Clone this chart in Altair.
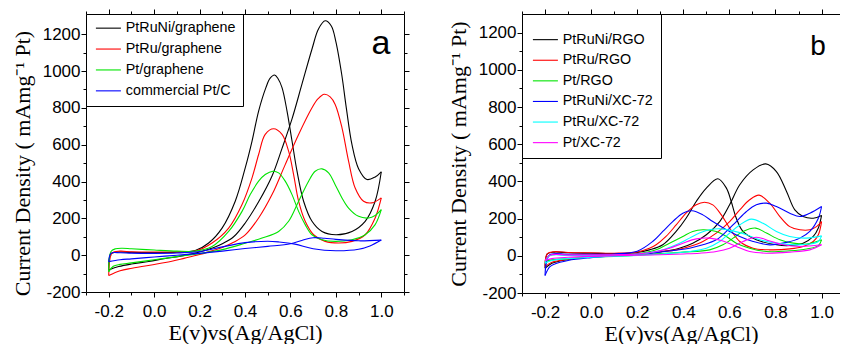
import altair as alt
import pandas as pd

# ---------------- Panel a data ----------------
a_names = ["PtRuNi/graphene", "PtRu/graphene", "Pt/graphene", "commercial Pt/C"]
a_colors = ["#000000", "#ff0000", "#00e400", "#0000ff"]

a1_fwd_E = [-0.2, -0.156, -0.1, -0.024, 0.05, 0.122, 0.196, 0.26, 0.3, 0.35, 0.401, 0.46, 0.519, 0.563, 0.607, 0.651, 0.695, 0.724, 0.753, 0.78, 0.8, 0.826, 0.846, 0.871, 0.9, 0.937, 0.973, 1.0]
a1_fwd_I = [-80, -62, -48, -34, -18, -4, 16, 40, 62, 100, 175, 290, 430, 580, 740, 930, 1120, 1230, 1273, 1245, 1160, 980, 800, 600, 470, 411, 425, 453]
a1_bwd_E = [1.0, 0.973, 0.929, 0.871, 0.8, 0.739, 0.695, 0.658, 0.629, 0.607, 0.585, 0.563, 0.545, 0.53, 0.51, 0.492, 0.46, 0.431, 0.401, 0.357, 0.299, 0.24, 0.181, 0.1, 0.0, -0.1, -0.16, -0.19, -0.2]
a1_bwd_I = [453, 293, 184, 129, 111, 129, 184, 293, 456, 620, 783, 910, 960, 979, 960, 910, 783, 620, 474, 293, 147, 66, 25, 16, 14, 15, 17, 8, -80]

a2_fwd_E = [-0.2, -0.15, -0.097, 0.049, 0.135, 0.196, 0.25, 0.3, 0.35, 0.401, 0.46, 0.519, 0.577, 0.636, 0.695, 0.722, 0.749, 0.775, 0.797, 0.827, 0.856, 0.885, 0.922, 0.959, 1.0]
a2_fwd_I = [-111, -85, -71, -40, -16, 2, 22, 42, 70, 110, 202, 329, 492, 656, 801, 850, 874, 860, 819, 692, 511, 365, 293, 284, 311]
a2_bwd_E = [1.0, 0.973, 0.929, 0.871, 0.812, 0.753, 0.702, 0.665, 0.636, 0.614, 0.592, 0.563, 0.526, 0.489, 0.46, 0.431, 0.387, 0.328, 0.255, 0.181, 0.1, 0.0, -0.1, -0.15, -0.185, -0.2]
a2_bwd_I = [311, 202, 111, 75, 66, 75, 111, 184, 293, 438, 565, 656, 687, 656, 547, 420, 275, 147, 66, 22, 18, 17, 18, 22, 12, -111]

a3_fwd_E = [-0.2, -0.18, -0.15, -0.1, 0.0, 0.1, 0.2, 0.3, 0.401, 0.475, 0.548, 0.592, 0.636, 0.68, 0.709, 0.739, 0.768, 0.797, 0.827, 0.856, 0.9, 0.944, 0.973, 1.0]
a3_fwd_I = [-90, -60, -50, -42, -25, -8, 8, 30, 65, 93, 129, 184, 293, 402, 456, 469, 447, 383, 311, 256, 211, 202, 216, 247]
a3_bwd_E = [1.0, 0.973, 0.929, 0.871, 0.797, 0.739, 0.695, 0.665, 0.636, 0.607, 0.577, 0.548, 0.523, 0.489, 0.46, 0.423, 0.387, 0.328, 0.255, 0.181, 0.1, 0.0, -0.1, -0.14, -0.17, -0.19, -0.2]
a3_bwd_I = [247, 166, 111, 84, 75, 84, 111, 166, 238, 329, 402, 447, 456, 438, 402, 329, 238, 129, 47, 22, 22, 28, 35, 38, 35, 20, -90]

a4_fwd_E = [-0.2, -0.15, -0.1, 0.0, 0.1, 0.2, 0.3, 0.4, 0.5, 0.6, 0.65, 0.7, 0.75, 0.8, 0.9, 1.0]
a4_fwd_I = [-35, -25, -20, -10, 0, 10, 22, 36, 48, 62, 80, 95, 92, 86, 78, 82]
a4_bwd_E = [1.0, 0.95, 0.9, 0.8, 0.7, 0.62, 0.55, 0.5, 0.4, 0.3, 0.2, 0.1, 0.0, -0.1, -0.15, -0.19, -0.2]
a4_bwd_I = [82, 50, 32, 24, 35, 60, 72, 76, 68, 45, 20, 12, 10, 11, 13, 10, -35]

# ---------------- Panel b data ----------------
b_names = ["PtRuNi/RGO", "PtRu/RGO", "Pt/RGO", "PtRuNi/XC-72", "PtRu/XC-72", "Pt/XC-72"]
b_colors = ["#000000", "#ff0000", "#00e400", "#0000ff", "#00ffff", "#ff00ff"]

b1_fwd_E = [-0.2, -0.17, -0.1, 0.0, 0.1, 0.2, 0.311, 0.383, 0.441, 0.5, 0.558, 0.601, 0.645, 0.703, 0.758, 0.804, 0.848, 0.884, 0.92, 0.964, 1.0]
b1_fwd_I = [-67, -40, -20, -5, 3, 10, 23, 41, 68, 113, 184, 274, 382, 462, 494, 453, 346, 247, 211, 202, 217]
b1_bwd_E = [1.0, 0.986, 0.964, 0.92, 0.862, 0.804, 0.717, 0.659, 0.63, 0.608, 0.587, 0.55, 0.5, 0.456, 0.412, 0.369, 0.311, 0.253, 0.2, 0.1, 0.0, -0.1, -0.16, -0.19, -0.2]
b1_bwd_I = [217, 149, 104, 68, 55, 59, 86, 131, 202, 292, 364, 414, 364, 292, 202, 131, 59, 32, 18, 12, 14, 16, 20, 10, -67]

b2_fwd_E = [-0.2, -0.17, -0.1, 0.0, 0.1, 0.2, 0.3, 0.369, 0.427, 0.485, 0.543, 0.601, 0.645, 0.688, 0.729, 0.775, 0.819, 0.862, 0.906, 0.949, 0.978, 1.0]
b2_fwd_I = [-58, -35, -18, -5, 3, 8, 22, 32, 50, 77, 122, 184, 247, 301, 326, 283, 211, 157, 140, 140, 157, 184]
b2_bwd_E = [1.0, 0.986, 0.964, 0.92, 0.862, 0.775, 0.703, 0.645, 0.601, 0.565, 0.528, 0.492, 0.456, 0.412, 0.369, 0.325, 0.282, 0.253, 0.2, 0.1, 0.0, -0.1, -0.16, -0.19, -0.2]
b2_bwd_I = [184, 113, 77, 50, 37, 32, 41, 77, 149, 220, 274, 288, 274, 229, 166, 104, 59, 41, 20, 14, 16, 18, 22, 12, -58]

b3_fwd_E = [-0.2, -0.17, -0.1, 0.0, 0.1, 0.2, 0.3, 0.4, 0.514, 0.572, 0.616, 0.659, 0.714, 0.761, 0.819, 0.877, 0.935, 1.0]
b3_fwd_I = [-30, -22, -15, -8, -3, 3, 12, 20, 32, 59, 95, 131, 149, 122, 86, 68, 63, 86]
b3_bwd_E = [1.0, 0.986, 0.935, 0.862, 0.761, 0.688, 0.63, 0.587, 0.543, 0.485, 0.441, 0.398, 0.34, 0.282, 0.2, 0.1, 0.0, -0.1, -0.18, -0.2]
b3_bwd_I = [86, 55, 37, 27, 23, 41, 68, 104, 131, 140, 131, 104, 68, 32, 10, 6, 5, 5, 3, -30]

b4_fwd_E = [-0.2, -0.18, -0.16, -0.1, 0.0, 0.1, 0.2, 0.3, 0.427, 0.485, 0.543, 0.587, 0.63, 0.674, 0.717, 0.761, 0.804, 0.862, 0.906, 0.949, 1.0]
b4_fwd_I = [-106, -60, -45, -25, -10, 0, 8, 20, 41, 59, 86, 131, 184, 238, 274, 283, 265, 229, 211, 229, 265]
b4_bwd_E = [1.0, 0.986, 0.949, 0.906, 0.848, 0.775, 0.703, 0.645, 0.587, 0.528, 0.485, 0.438, 0.398, 0.354, 0.311, 0.267, 0.2, 0.1, 0.0, -0.1, -0.18, -0.2]
b4_bwd_I = [265, 202, 131, 95, 72, 59, 77, 104, 140, 184, 220, 242, 229, 184, 131, 77, 25, 10, 8, 8, 5, -106]

b5_fwd_E = [-0.2, -0.17, -0.1, 0.0, 0.1, 0.2, 0.311, 0.427, 0.5, 0.558, 0.601, 0.645, 0.695, 0.746, 0.804, 0.862, 0.935, 1.0]
b5_fwd_I = [-40, -25, -15, -8, -2, 2, 10, 23, 41, 77, 122, 166, 197, 175, 131, 104, 95, 107]
b5_bwd_E = [1.0, 0.986, 0.949, 0.891, 0.804, 0.732, 0.674, 0.616, 0.558, 0.514, 0.47, 0.427, 0.369, 0.311, 0.2, 0.1, 0.0, -0.1, -0.18, -0.2]
b5_bwd_I = [107, 77, 63, 59, 68, 86, 113, 134, 145, 140, 122, 95, 59, 32, 8, 4, 2, 2, 0, -40]

b6_fwd_E = [-0.2, -0.17, -0.1, 0.0, 0.1, 0.2, 0.3, 0.4, 0.47, 0.543, 0.601, 0.659, 0.717, 0.775, 0.833, 0.906, 1.0]
b6_fwd_I = [-25, -15, -8, -3, 0, 3, 6, 10, 14, 23, 41, 77, 100, 80, 59, 50, 59]
b6_bwd_E = [1.0, 0.949, 0.862, 0.761, 0.688, 0.63, 0.572, 0.514, 0.456, 0.398, 0.34, 0.282, 0.2, 0.1, 0.0, -0.1, -0.18, -0.2]
b6_bwd_I = [59, 32, 20, 14, 23, 50, 80, 95, 91, 68, 41, 23, 10, 6, 5, 5, 3, -25]

# ---------------- axis ticks ----------------
x_major = [-0.2, 0.0, 0.2, 0.4, 0.6, 0.8, 1.0]
x_minor_a = [-0.3, -0.1, 0.1, 0.3, 0.5, 0.7, 0.9, 1.1]
x_minor_b = [-0.3, -0.1, 0.1, 0.3, 0.5, 0.7, 0.9]
y_major = [-200, 0, 200, 400, 600, 800, 1000, 1200]
y_minor = [-100, 100, 300, 500, 700, 900, 1100]

SANS = "Liberation Sans"
SERIF = "Liberation Serif"
X_TITLE = "E(v)vs(Ag/AgCl)"
Y_TITLE_A = "Current Density ( mAmg\u207b\u00b9  Pt)"
Y_TITLE_B = "Current  Density ( mAmg\u207b\u00b9  Pt)"


def build_df(names, curves):
    rows = []
    for name, (fe, fi, be, bi) in zip(names, curves):
        for k, (e, i) in enumerate(zip(fe, fi)):
            rows.append({"series": name, "seg": name + " fwd", "idx": k, "E": e, "I": i})
        for k, (e, i) in enumerate(zip(be, bi)):
            rows.append({"series": name, "seg": name + " bwd", "idx": k, "E": e, "I": i})
    return pd.DataFrame(rows)


df_a = build_df(a_names, [
    (a1_fwd_E, a1_fwd_I, a1_bwd_E, a1_bwd_I),
    (a2_fwd_E, a2_fwd_I, a2_bwd_E, a2_bwd_I),
    (a3_fwd_E, a3_fwd_I, a3_bwd_E, a3_bwd_I),
    (a4_fwd_E, a4_fwd_I, a4_bwd_E, a4_bwd_I),
])
df_b = build_df(b_names, [
    (b1_fwd_E, b1_fwd_I, b1_bwd_E, b1_bwd_I),
    (b2_fwd_E, b2_fwd_I, b2_bwd_E, b2_bwd_I),
    (b3_fwd_E, b3_fwd_I, b3_bwd_E, b3_bwd_I),
    (b4_fwd_E, b4_fwd_I, b4_bwd_E, b4_bwd_I),
    (b5_fwd_E, b5_fwd_I, b5_bwd_E, b5_bwd_I),
    (b6_fwd_E, b6_fwd_I, b6_bwd_E, b6_bwd_I),
])
dummy = pd.DataFrame({"E": [0.0], "I": [0.0]})

X_LABEL_EXPR = "datum.value < 0 ? '-' + format(-datum.value, '.1f') : format(datum.value, '.1f')"
Y_LABEL_EXPR = "datum.value < 0 ? '-' + format(-datum.value, 'd') : format(datum.value, 'd')"


def tick_axis(orient, values, size, domain):
    return alt.Axis(orient=orient, values=values, labels=False, title=None, tickSize=size,
                    tickColor="black", domain=domain, domainColor="black", grid=False)


def panel(df, names, colors, xdom, ydom, w, h, x_minor, legend, y_title, y_title_y,
          letter, letter_x, letter_y, letter_size, right):
    xs = alt.Scale(domain=xdom, nice=False, zero=False)
    ys = alt.Scale(domain=ydom, nice=False, zero=False)
    y_axis_kw = dict(
        orient="left", values=y_major, title=y_title, titleFont=SERIF, titleFontSize=22,
        titleFontWeight="normal", titleColor="black", titlePadding=8,
        labelFont=SANS, labelFontSize=17, labelColor="black", labelExpr=Y_LABEL_EXPR,
        labelPadding=1, labelFlush=False, labelOverlap=False,
        tickSize=5, tickColor="black", domain=True, domainColor="black", grid=False)
    if y_title_y is not None:
        y_axis_kw["titleY"] = y_title_y
    lines = alt.Chart(df).mark_line(strokeWidth=1.1, interpolate="catmull-rom", clip=True).encode(
        x=alt.X("E:Q", scale=xs, axis=alt.Axis(
            orient="bottom", values=x_major, title=X_TITLE, titleFont=SERIF, titleFontSize=22,
            titleFontWeight="normal", titleColor="black", titleBaseline="alphabetic", titleY=47,
            labelFont=SANS, labelFontSize=17, labelColor="black", labelExpr=X_LABEL_EXPR,
            labelPadding=6, labelFlush=False, labelOverlap=False,
            tickSize=5, tickColor="black", domain=True, domainColor="black", grid=False)),
        y=alt.Y("I:Q", scale=ys, axis=alt.Axis(**y_axis_kw)),
        color=alt.Color("series:N", scale=alt.Scale(domain=names, range=colors), legend=legend),
        detail="seg:N",
        order="idx:Q",
    )
    minor = alt.Chart(dummy).mark_point(opacity=0).encode(
        x=alt.X("E:Q", scale=xs, axis=tick_axis("bottom", x_minor, 3, False)),
        y=alt.Y("I:Q", scale=ys, axis=tick_axis("left", y_minor, 3, False)),
    )
    top_major = alt.Chart(dummy).mark_point(opacity=0).encode(
        x=alt.X("E:Q", scale=xs, axis=tick_axis("top", x_major, 5, True)),
        y=alt.Y("I:Q", scale=ys, axis=tick_axis("right", y_major, 5, True) if right else None),
    )
    top_minor = alt.Chart(dummy).mark_point(opacity=0).encode(
        x=alt.X("E:Q", scale=xs, axis=tick_axis("top", x_minor, 3, False)),
        y=alt.Y("I:Q", scale=ys, axis=tick_axis("right", y_minor, 3, False) if right else None),
    )
    txt = alt.Chart(dummy).mark_text(text=letter, font=SANS, fontSize=letter_size, align="center",
                                     baseline="alphabetic", color="black").encode(
        x=alt.value(letter_x), y=alt.value(letter_y))
    return alt.layer(lines, minor, top_major, top_minor, txt).resolve_axis(
        x="independent", y="independent").properties(width=w, height=h)


legend_common = dict(orient="top-left", offset=0, strokeColor="black", fillColor="white",
                     symbolType="M-1,0H3", symbolSize=156.25, symbolStrokeWidth=1.1,
                     symbolOffset=2, labelFont=SANS, labelFontSize=14.3, labelColor="black",
                     labelOffset=16.5, labelLimit=300)
legend_a = alt.Legend(title=None, padding=7, rowPadding=5.9, **legend_common)
legend_b = alt.Legend(title="\u00a0", titleFontSize=6, titlePadding=4.5, padding=8, rowPadding=5.6,
                      **legend_common)

pa = panel(df_a, a_names, a_colors, [-0.3, 1.1], [-200, 1310], 318, 278, x_minor_a, legend_a,
           Y_TITLE_A, 149, "a", 295, 40, 34, True)
pb = panel(df_b, b_names, b_colors, [-0.3, 1.08], [-200, 1300], 318, 279, x_minor_b, legend_b,
           Y_TITLE_B, None, "b", 296, 41, 28, False)

chart = alt.hconcat(pa, pb, spacing=37).resolve_scale(color="independent").configure_view(
    stroke=None).properties(padding={"left": 11, "top": 8, "right": 0, "bottom": 0})

chart.save("out.html", embed_options={"renderer": "svg", "actions": False})
